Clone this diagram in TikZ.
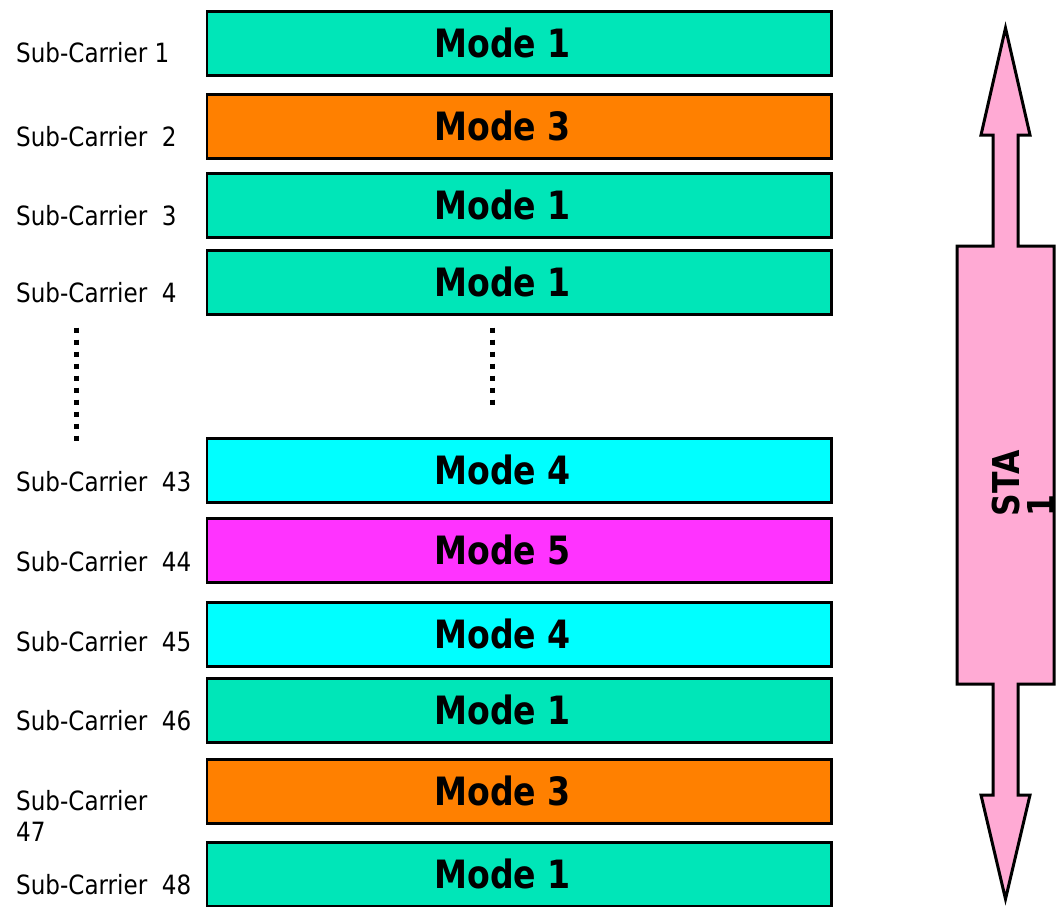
\documentclass[tikz,border=0pt]{standalone}
\usepackage{fontspec}
\usetikzlibrary{calc}
\newfontfamily\labfont[FakeStretch=0.87]{DejaVu Sans}
\newfontfamily\modefont[FakeStretch=0.85]{DejaVu Sans}
\definecolor{mone}{RGB}{0,230,184}
\definecolor{mthree}{RGB}{255,128,0}
\definecolor{mfour}{RGB}{0,255,255}
\definecolor{mfive}{RGB}{255,51,255}
\definecolor{stapink}{RGB}{255,170,212}
\begin{document}
\begin{tikzpicture}[x=1pt,y=-1pt,
  modebox/.style={draw=black,line width=2.6pt,minimum width=624.5pt,minimum height=64pt,inner sep=0pt,anchor=north west},
  modetext/.style={font=\modefont\bfseries\fontsize{39}{47}\selectfont,inner sep=0pt,anchor=base},
  labtext/.style={font=\labfont\fontsize{26.5}{31}\selectfont,inner sep=0pt,anchor=base west},
  dotline/.style={line width=5pt,dash pattern=on 5pt off 7pt,line cap=butt},
  staarrow/.style={draw=black,line width=3pt,fill=stapink,line join=miter}]
\useasboundingbox (0,0) rectangle (1057,906);
% boxes
\node[modebox,fill=mone]   (b1)  at (205.5,10)  {};
\node[modebox,fill=mthree] (b2)  at (205.5,93)  {};
\node[modebox,fill=mone]   (b3)  at (205.5,172) {};
\node[modebox,fill=mone]   (b4)  at (205.5,249) {};
\node[modebox,fill=mfour]  (b43) at (205.5,437) {};
\node[modebox,fill=mfive]  (b44) at (205.5,517) {};
\node[modebox,fill=mfour]  (b45) at (205.5,601) {};
\node[modebox,fill=mone]   (b46) at (205.5,677) {};
\node[modebox,fill=mthree] (b47) at (205.5,758) {};
\node[modebox,fill=mone]   (b48) at (205.5,841) {};
% mode texts
\foreach \b/\t in {b1/Mode 1,b2/Mode 3,b3/Mode 1,b4/Mode 1,b43/Mode 4,b44/Mode 5,b45/Mode 4,b46/Mode 1,b47/Mode 3,b48/Mode 1}{
  \node[modetext] (t\b) at ($(\b.north)+(-16.5,47)$) {\t};
}
% labels
\node[labtext] (l1)  at (16,62)  {Sub-Carrier 1};
\node[labtext] (l2)  at (16,146) {Sub-Carrier\ \ 2};
\node[labtext] (l3)  at (16,225) {Sub-Carrier\ \ 3};
\node[labtext] (l4)  at (16,302) {Sub-Carrier\ \ 4};
\node[labtext] (l43) at (16,491) {Sub-Carrier\ \ 43};
\node[labtext] (l44) at (16,571) {Sub-Carrier\ \ 44};
\node[labtext] (l45) at (16,651) {Sub-Carrier\ \ 45};
\node[labtext] (l46) at (16,730) {Sub-Carrier\ \ 46};
\node[labtext,align=left,anchor=north west] (l47) at (16,790) {Sub-Carrier\\47};
\node[labtext] (l48) at (16,894) {Sub-Carrier\ \ 48};
% dotted lines
\coordinate (dla) at (76,327.5);
\coordinate (dlb) at (76,440.5);
\coordinate (dra) at (492,327.5);
\coordinate (drb) at (492,404.5);
\draw[dotline] (dla) -- (dlb);
\draw[dotline] (dra) -- (drb);
% STA double arrow
\draw[staarrow] (1005.5,28) -- (1030,135) -- (1018,135) -- (1018,246) -- (1054,246) -- (1054,684)
  -- (1018,684) -- (1018,795) -- (1030,795) -- (1005.5,899) -- (981,795) -- (993,795)
  -- (993,684) -- (957,684) -- (957,246) -- (993,246) -- (993,135) -- (981,135) -- cycle;
\node[rotate=90,align=left,inner sep=0pt,font=\modefont\bfseries\fontsize{37}{35}\selectfont] (sta) at (1023.5,483) {STA\\1};
\end{tikzpicture}
\end{document}
